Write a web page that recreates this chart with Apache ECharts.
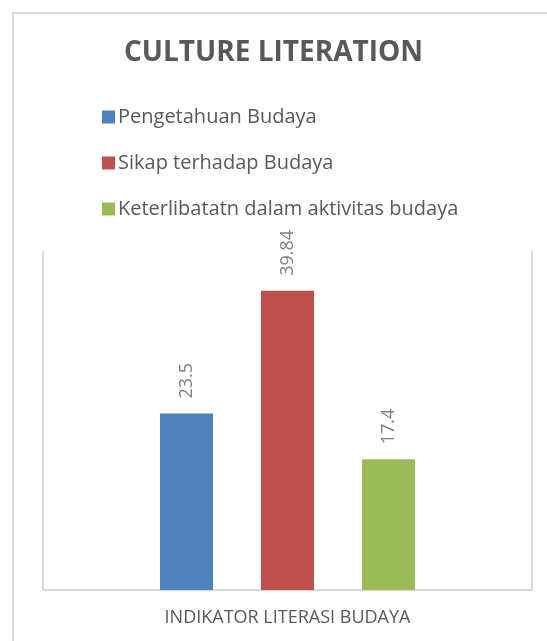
<!DOCTYPE html>
<html>
<head>
<meta charset="utf-8">
<style>
    html, body { margin: 0; padding: 0; background: #fff; overflow: hidden; }
    #frame { position: absolute; left: 12px; top: 12px; width: 700px; height: 800px; border: 2px solid #d9d9d9; }
    #main { position: absolute; left: 0; top: 0; width: 547px; height: 641px; }
</style>
</head>
<body>
<div id="frame"></div>
<div id="main"></div>
<script src="https://cdn.jsdelivr.net/npm/echarts@6/dist/echarts.min.js"></script>
<script>
    var categories = ['INDIKATOR LITERASI BUDAYA'];
    var seriesNames = ['Pengetahuan Budaya', 'Sikap terhadap Budaya', 'Keterlibatatn dalam aktivitas budaya'];
    var pengetahuan = [23.5];
    var sikap = [39.84];
    var keterlibatan = [17.4];
    var colors = ['#4f81bd', '#c0504d', '#9bbb59'];

    var myChart = echarts.init(document.getElementById('main'));
    var font = '"Open Sans", sans-serif';

    function barSeries(name, data, color) {
        return {
            name: name,
            type: 'bar',
            data: data,
            barWidth: 53,
            barGap: '90.5%',
            itemStyle: {color: color},
            label: {
                show: true,
                position: 'top',
                rotate: 90,
                align: 'left',
                verticalAlign: 'middle',
                distance: 15,
                color: '#7f7f7f',
                fontSize: 18,
                fontFamily: font
            }
        };
    }

    var option = {
        backgroundColor: 'transparent',
        animation: false,
        title: {
            text: 'CULTURE LITERATION',
            left: 'center',
            top: 34,
            textStyle: {color: '#595959', fontSize: 28, fontWeight: 'bold', fontFamily: font}
        },
        legend: {
            orient: 'vertical',
            left: 97,
            top: 102,
            icon: 'rect',
            itemWidth: 13,
            itemHeight: 13,
            itemGap: 26,
            data: seriesNames,
            textStyle: {color: '#595959', fontSize: 20, lineHeight: 20, fontFamily: font, padding: [0, 0, 0, -2]}
        },
        grid: {left: 43, right: 15, top: 252, bottom: 51},
        xAxis: {
            type: 'category',
            data: categories,
            axisLine: {lineStyle: {color: '#d9d9d9', width: 2}},
            axisTick: {show: false},
            axisLabel: {color: '#595959', fontSize: 18, margin: 19, fontFamily: font}
        },
        yAxis: [{
            type: 'value',
            min: 0,
            max: 45,
            position: 'left',
            axisLine: {show: true, lineStyle: {color: '#d9d9d9', width: 2}},
            axisTick: {show: false},
            axisLabel: {show: false},
            splitLine: {show: false}
        }, {
            type: 'value',
            min: 0,
            max: 45,
            position: 'right',
            axisLine: {show: true, lineStyle: {color: '#d9d9d9', width: 2}},
            axisTick: {show: false},
            axisLabel: {show: false},
            splitLine: {show: false}
        }],
        series: [
            barSeries(seriesNames[0], pengetahuan, colors[0]),
            barSeries(seriesNames[1], sikap, colors[1]),
            barSeries(seriesNames[2], keterlibatan, colors[2])
        ]
    };

    myChart.setOption(option);
</script>
</body>
</html>
